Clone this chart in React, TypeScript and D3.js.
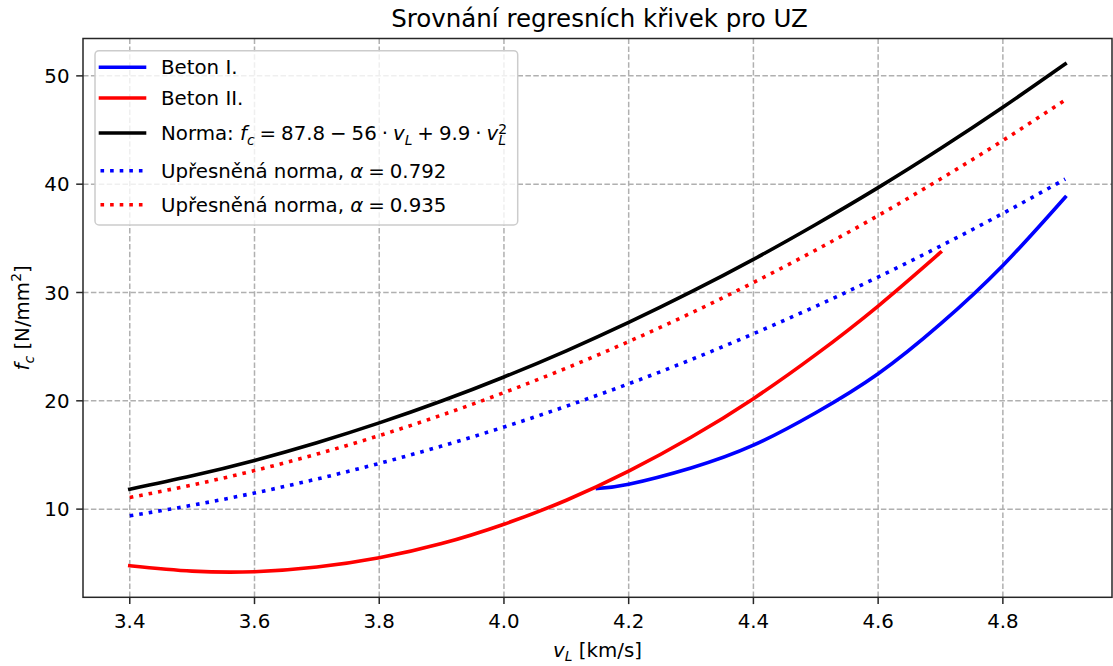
import React from "react";
import * as d3 from "d3";

const W = 1113;
const H = 666;

// velocity samples (km/s)
const V_FULL = [3.4, 3.5, 3.6, 3.7, 3.8, 3.9, 4.0, 4.1, 4.2, 4.3, 4.4, 4.5, 4.6, 4.7, 4.8, 4.9];
// Norma curve values (N/mm2)
const NORMA = [11.84, 13.08, 14.5, 16.13, 17.96, 19.98, 22.2, 24.62, 27.24, 30.05, 33.06, 36.28, 39.68, 43.29, 47.1, 51.1];
// Upřesněná norma, alpha = 0.792
const UPR_0792 = [9.38, 10.36, 11.49, 12.78, 14.22, 15.82, 17.58, 19.5, 21.57, 23.8, 26.19, 28.73, 31.43, 34.29, 37.3, 40.47];
// Upřesněná norma, alpha = 0.935
const UPR_0935 = [11.07, 12.23, 13.56, 15.08, 16.79, 18.68, 20.76, 23.02, 25.47, 28.1, 30.92, 33.92, 37.1, 40.48, 44.03, 47.78];
// Beton II
const V_BETON2 = [3.4, 3.5, 3.6, 3.7, 3.8, 3.9, 4.0, 4.1, 4.2, 4.3, 4.4, 4.5, 4.6, 4.7];
const BETON2 = [4.78, 4.28, 4.22, 4.65, 5.51, 6.82, 8.61, 10.82, 13.5, 16.63, 20.2, 24.26, 28.75, 33.7];
// Beton I
const V_BETON1 = [4.15, 4.2, 4.3, 4.4, 4.5, 4.6, 4.7, 4.8, 4.9];
const BETON1 = [11.9, 12.3, 13.8, 15.9, 18.9, 22.5, 27.1, 32.5, 38.8];

const X_TICKS = [3.4, 3.6, 3.8, 4.0, 4.2, 4.4, 4.6, 4.8];
const Y_TICKS = [10, 20, 30, 40, 50];

const TITLE = "Srovnání regresních křivek pro UZ";

const FONT = "'DejaVu Sans', sans-serif";
const FS = 19.8;
const SUB = FS * 0.7;
const SP = "\u2005"; // math operator spacing

export default function App() {
  const left = 83;
  const right = 1112;
  const top = 38.5;
  const bottom = 597.3;

  const x = d3.scaleLinear().domain([3.325, 4.975]).range([left, right]);
  const y = d3.scaleLinear().domain([1.86, 53.45]).range([bottom, top]);

  const mk = (vs: number[], fs: number[]) => {
    const line = d3
      .line<number>()
      .x((_, i) => x(vs[i]))
      .y((d) => y(d))
      .curve(d3.curveNatural);
    return line(fs) || "";
  };

  const LW = 3.6;
  const series = [
    { d: mk(V_BETON1, BETON1), color: "#0000ff", dotted: false },
    { d: mk(V_BETON2, BETON2), color: "#ff0000", dotted: false },
    { d: mk(V_FULL, NORMA), color: "#000000", dotted: false },
    { d: mk(V_FULL, UPR_0792), color: "#0000ff", dotted: true },
    { d: mk(V_FULL, UPR_0935), color: "#ff0000", dotted: true },
  ];

  const legendBase = [74.3, 105, 140, 177.7, 211.7];
  const legendItems = [
    { color: "#0000ff", dotted: false },
    { color: "#ff0000", dotted: false },
    { color: "#000000", dotted: false },
    { color: "#0000ff", dotted: true },
    { color: "#ff0000", dotted: true },
  ];

  const legendText = (i: number) => {
    if (i === 0) return <>Beton I.</>;
    if (i === 1) return <>Beton II.</>;
    if (i === 2)
      return (
        <>
          Norma:{" "}
          <tspan fontStyle="italic">f</tspan>
          <tspan fontSize={SUB} fontStyle="italic" dy={4.5}>c</tspan>
          <tspan dy={-4.5}>{`${SP}=${SP}87.8${SP}−${SP}56${SP}·${SP}`}</tspan>
          <tspan fontStyle="italic">v</tspan>
          <tspan fontSize={SUB} fontStyle="italic" dy={4.5}>L</tspan>
          <tspan dy={-4.5}>{`${SP}+${SP}9.9${SP}·${SP}`}</tspan>
          <tspan fontStyle="italic">v</tspan>
          <tspan fontSize={SUB} fontStyle="italic" dy={4.5}>L</tspan>
          <tspan fontSize={SUB} dx={-7.7} dy={-10.8}>2</tspan>
        </>
      );
    const a = i === 3 ? "0.792" : "0.935";
    return (
      <>
        Upřesněná norma, <tspan fontStyle="italic">α</tspan>
        <tspan>{`${SP}=${SP}${a}`}</tspan>
      </>
    );
  };

  return (
    <svg
      width={W}
      height={H}
      style={{ position: "absolute", left: 0, top: 0, background: "#fff" }}
      fontFamily={FONT}
    >
      <defs>
        <clipPath id="plotclip">
          <rect x={left} y={top} width={right - left} height={bottom - top} />
        </clipPath>
      </defs>
      <rect x={0} y={0} width={W} height={H} fill="#fff" />

      {/* grid */}
      <g stroke="#b0b0b0" strokeWidth={1.5} strokeDasharray="5.5 2.4">
        {X_TICKS.map((t) => (
          <line key={"gx" + t} x1={x(t)} x2={x(t)} y1={top} y2={bottom} />
        ))}
        {Y_TICKS.map((t) => (
          <line key={"gy" + t} x1={left} x2={right} y1={y(t)} y2={y(t)} />
        ))}
      </g>

      {/* series */}
      <g clipPath="url(#plotclip)" fill="none">
        {series.map((s, i) => (
          <path
            key={i}
            d={s.d}
            stroke={s.color}
            strokeWidth={LW}
            strokeLinecap={s.dotted ? "butt" : "square"}
            strokeLinejoin="round"
            strokeDasharray={s.dotted ? "3.6 6" : undefined}
          />
        ))}
      </g>

      {/* spines */}
      <rect
        x={left}
        y={top}
        width={right - left}
        height={bottom - top}
        fill="none"
        stroke="#262626"
        strokeWidth={1.5}
      />

      {/* x ticks */}
      {X_TICKS.map((t) => (
        <g key={"xt" + t}>
          <line x1={x(t)} x2={x(t)} y1={bottom} y2={bottom + 6.8} stroke="#262626" strokeWidth={1.5} />
          <text x={x(t)} y={628} textAnchor="middle" fontSize={FS} fill="#000">
            {t.toFixed(1)}
          </text>
        </g>
      ))}
      {/* y ticks */}
      {Y_TICKS.map((t) => (
        <g key={"yt" + t}>
          <line x1={left - 6.8} x2={left} y1={y(t)} y2={y(t)} stroke="#262626" strokeWidth={1.5} />
          <text x={left - 13.5} y={y(t)} dy="0.36em" textAnchor="end" fontSize={FS} fill="#000">
            {t}
          </text>
        </g>
      ))}

      {/* title */}
      <text x={(left + right) / 2 + 2} y={27} textAnchor="middle" fontSize={24.5} fill="#000">
        {TITLE}
      </text>

      {/* x label */}
      <text x={(left + right) / 2} y={656.5} textAnchor="middle" fontSize={FS} fill="#000">
        <tspan fontStyle="italic">v</tspan>
        <tspan fontSize={SUB} fontStyle="italic" dy={4.5}>L</tspan>
        <tspan dy={-4.5}> [km/s]</tspan>
      </text>

      {/* y label */}
      <text
        transform={`translate(29, ${(top + bottom) / 2}) rotate(-90)`}
        textAnchor="middle"
        fontSize={FS}
        fill="#000"
      >
        <tspan fontStyle="italic">f</tspan>
        <tspan fontSize={SUB} fontStyle="italic" dy={4.5}>c</tspan>
        <tspan dy={-4.5}> [N/mm</tspan>
        <tspan fontSize={SUB} dy={-8}>2</tspan>
        <tspan dy={8}>]</tspan>
      </text>

      {/* legend */}
      <rect
        x={95}
        y={50.7}
        width={517.7 - 95}
        height={225 - 50.7}
        rx={4}
        fill="#fff"
        fillOpacity={0.8}
        stroke="#cccccc"
        strokeWidth={1.5}
      />
      {legendItems.map((it, i) => (
        <g key={"lg" + i}>
          <line
            x1={100.5}
            x2={144.5}
            y1={legendBase[i] - 7}
            y2={legendBase[i] - 7}
            stroke={it.color}
            strokeWidth={LW}
            strokeLinecap={it.dotted ? "butt" : "square"}
            strokeDasharray={it.dotted ? "3.6 6" : undefined}
          />
          <text x={161} y={legendBase[i]} fontSize={FS} fill="#000">
            {legendText(i)}
          </text>
        </g>
      ))}
    </svg>
  );
}
